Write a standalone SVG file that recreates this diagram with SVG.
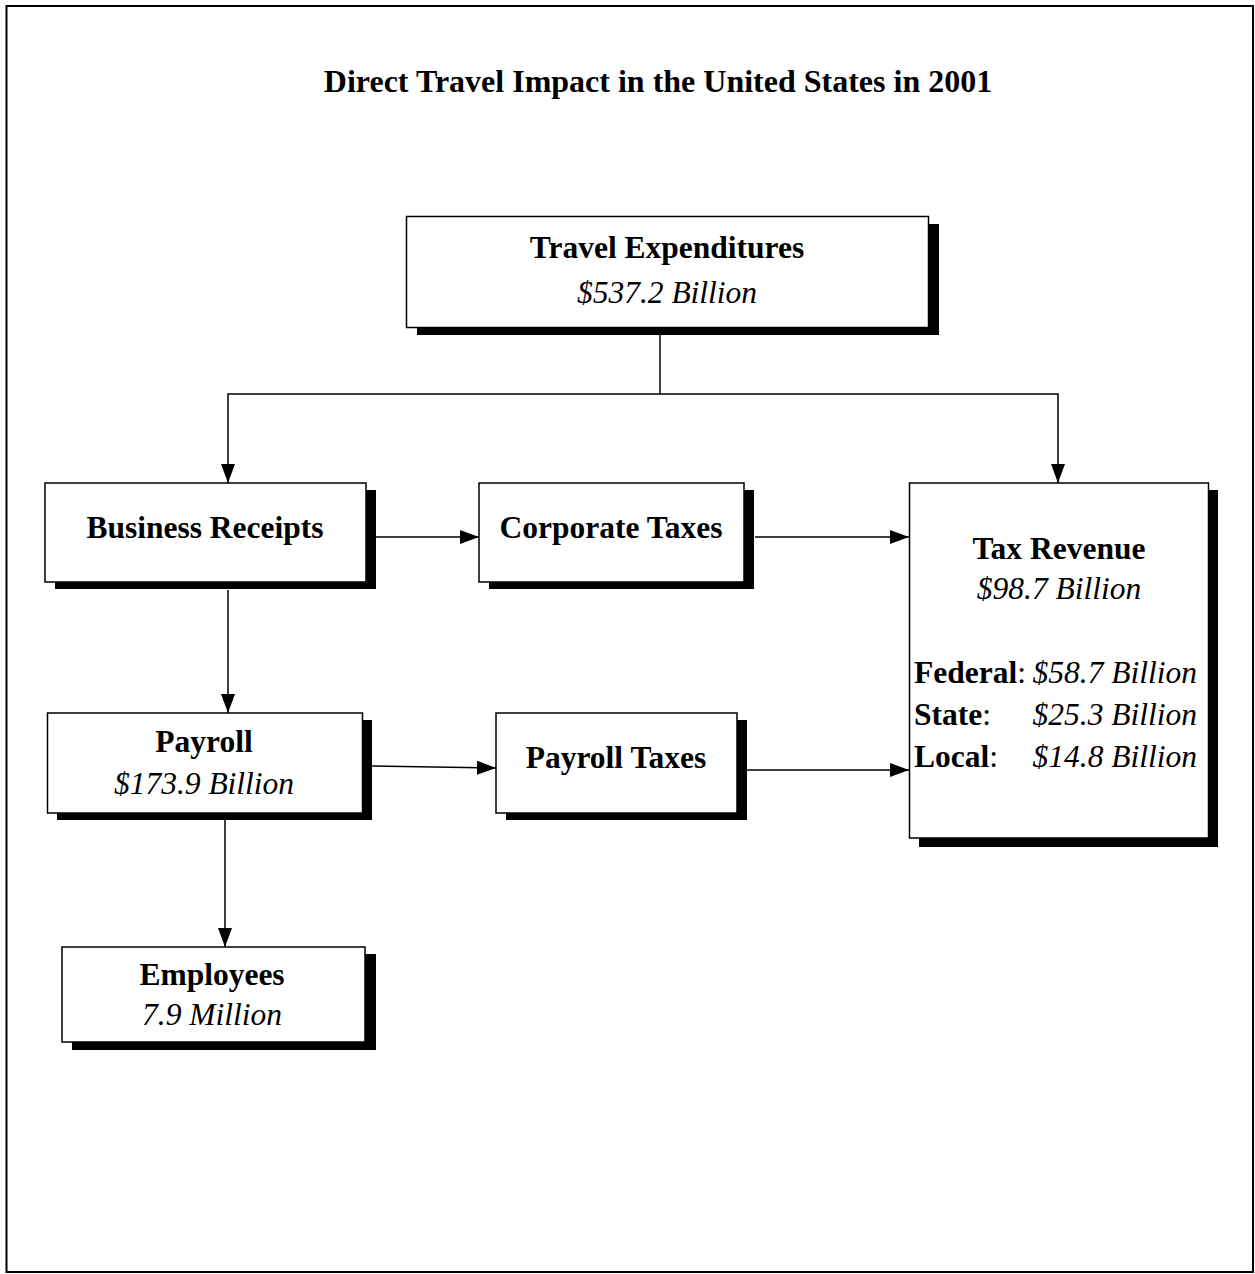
<svg xmlns="http://www.w3.org/2000/svg" width="1255" height="1274" viewBox="0 0 1255 1274">
<defs>
<marker id="arr" markerWidth="20" markerHeight="14" refX="19" refY="7" orient="auto" markerUnits="userSpaceOnUse">
<path d="M0,0 L19,7 L0,14 Z" fill="#000"/>
</marker>
<style>
.box{fill:#fff;stroke:#000;stroke-width:1.5}
.sh{fill:#000}
.b{font-family:"Liberation Serif","Times New Roman",serif;font-weight:bold;font-size:31.5px;fill:#000}
.i{font-family:"Liberation Serif","Times New Roman",serif;font-style:italic;font-size:31.5px;fill:#000}
.r{font-family:"Liberation Serif","Times New Roman",serif;font-size:31.5px;fill:#000}
.c{stroke:#000;stroke-width:1.5;fill:none}
.a{stroke:#000;stroke-width:1.5;fill:none;marker-end:url(#arr)}
</style>
</defs>
<rect x="0" y="0" width="1255" height="1274" fill="#fff"/>
<rect x="6.5" y="6" width="1246.5" height="1266" fill="none" stroke="#000" stroke-width="2"/>
<text x="658" y="92" text-anchor="middle" class="b" style="font-size:32px">Direct Travel Impact in the United States in 2001</text>

<g id="connectors">
<polyline class="c" points="660,335 660,394"/>
<polyline class="a" points="660,394 228,394 228,483"/>
<polyline class="a" points="660,394 1058,394 1058,483"/>
<line class="a" x1="376" y1="537" x2="479" y2="537"/>
<line class="a" x1="755" y1="537" x2="909" y2="537"/>
<line class="a" x1="228" y1="590" x2="228" y2="713"/>
<line class="a" x1="372" y1="766" x2="496" y2="768"/>
<line class="a" x1="747" y1="770" x2="909" y2="770"/>
<line class="a" x1="225" y1="820" x2="225" y2="947"/>
</g>

<g id="travel-expenditures">
<rect class="sh" x="417" y="224" width="522" height="111"/>
<rect class="box" x="406.5" y="216.5" width="522" height="111"/>
<text x="667" y="258" text-anchor="middle" class="b">Travel Expenditures</text>
<text x="667" y="303" text-anchor="middle" class="i">$537.2 Billion</text>
</g>

<g id="business-receipts">
<rect class="sh" x="55" y="490" width="321" height="99"/>
<rect class="box" x="45" y="483" width="321" height="99"/>
<text x="205" y="538" text-anchor="middle" class="b">Business Receipts</text>
</g>

<g id="corporate-taxes">
<rect class="sh" x="489" y="490" width="265" height="99"/>
<rect class="box" x="479" y="483" width="265" height="99"/>
<text x="611" y="538" text-anchor="middle" class="b">Corporate Taxes</text>
</g>

<g id="tax-revenue">
<rect class="sh" x="919" y="490" width="299" height="357"/>
<rect class="box" x="909.5" y="483" width="299" height="355"/>
<text x="1059" y="559" text-anchor="middle" class="b">Tax Revenue</text>
<text x="1059" y="599" text-anchor="middle" class="i">$98.7 Billion</text>
<text x="914" y="683"><tspan class="b">Federal</tspan><tspan class="r">:</tspan></text>
<text x="1197" y="683" text-anchor="end" class="i">$58.7 Billion</text>
<text x="914" y="725"><tspan class="b">State</tspan><tspan class="r">:</tspan></text>
<text x="1197" y="725" text-anchor="end" class="i">$25.3 Billion</text>
<text x="914" y="767"><tspan class="b">Local</tspan><tspan class="r">:</tspan></text>
<text x="1197" y="767" text-anchor="end" class="i">$14.8 Billion</text>
</g>

<g id="payroll">
<rect class="sh" x="57" y="720" width="315" height="100"/>
<rect class="box" x="47.5" y="713" width="315" height="100"/>
<text x="204" y="752" text-anchor="middle" class="b">Payroll</text>
<text x="204" y="794" text-anchor="middle" class="i">$173.9 Billion</text>
</g>

<g id="payroll-taxes">
<rect class="sh" x="506" y="720" width="241" height="100"/>
<rect class="box" x="496" y="713" width="241" height="100"/>
<text x="616" y="768" text-anchor="middle" class="b">Payroll Taxes</text>
</g>

<g id="employees">
<rect class="sh" x="72" y="954" width="304" height="96"/>
<rect class="box" x="62" y="947" width="303" height="95"/>
<text x="212" y="985" text-anchor="middle" class="b">Employees</text>
<text x="212" y="1025" text-anchor="middle" class="i">7.9 Million</text>
</g>
</svg>
